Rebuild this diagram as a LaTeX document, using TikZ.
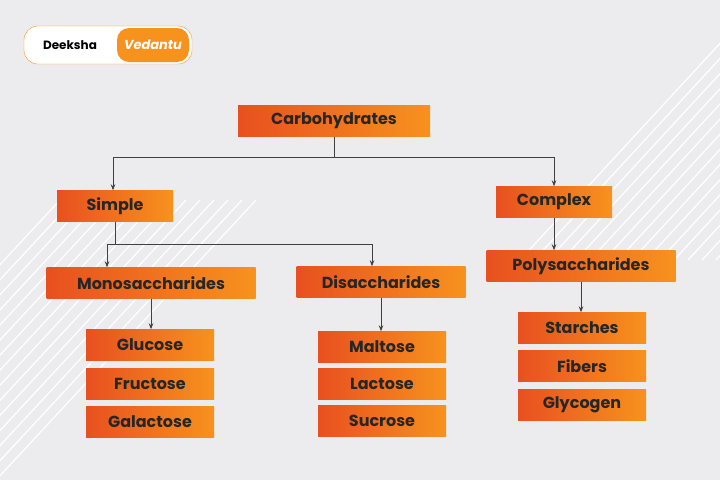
\documentclass[tikz,border=0pt]{standalone}
\usepackage{fontspec}
\setmainfont{Poppins}
\usetikzlibrary{positioning,arrows.meta}
\definecolor{darkorange}{HTML}{E8501F}
\definecolor{lightorange}{HTML}{F7921E}
\definecolor{bggray}{HTML}{ECECEE}
\begin{document}
\begin{tikzpicture}[x=1pt, y=-1pt]
		\useasboundingbox (0,0) rectangle (720,480);
		\fill[bggray] (0,0) rectangle (720,480);
		\begin{scope}
			\clip (0,0) rectangle (720,480);
			\foreach \i in {0,...,14} {
				\draw[white, line width=1.2pt] (-200+\i*14,480) -- (60+\i*14,200);
				\draw[white, line width=1.2pt] (520+\i*14,260) -- (760+\i*14,0);
			}
		\end{scope}
		% logo
		\node[draw=lightorange, fill=white, rounded corners=14pt, minimum width=168pt, minimum height=38pt] (logo) at (108,45) {};
		\node[font=\bfseries\fontsize{12}{13}\selectfont] (deeksha) at (70,45) {Deeksha};
		\node[fill=lightorange, rounded corners=12pt, text=white, font=\itshape\bfseries\fontsize{13}{14}\selectfont, minimum width=72pt, minimum height=34pt] (vedantu) at (153,45) {Vedantu};
		\begin{scope}[every node/.style={left color=darkorange, right color=lightorange, text=black!85, font=\bfseries\fontsize{16}{18}\selectfont, minimum height=31pt, inner sep=0pt}]
			\node[minimum width=192pt] (carb) at (334,121) {Carbohydrates};
			\node[minimum width=116pt] (simple) at (115,206) {Simple};
			\node[minimum width=116pt] (complex) at (554,202) {Complex};
			\node[minimum width=209pt] (mono) at (151,283) {Monosaccharides};
			\node[minimum width=169pt] (di) at (381,282) {Disaccharides};
			\node[minimum width=189pt] (poly) at (581,266) {Polysaccharides};
			\node[minimum width=128pt] (glucose) at (150,345) {Glucose};
			\node[minimum width=128pt] (fructose) at (150,384) {Fructose};
			\node[minimum width=128pt] (galactose) at (150,422) {Galactose};
			\node[minimum width=128pt] (maltose) at (382,347) {Maltose};
			\node[minimum width=128pt] (lactose) at (382,384) {Lactose};
			\node[minimum width=128pt] (sucrose) at (382,421) {Sucrose};
			\node[minimum width=128pt] (starches) at (582,328) {Starches};
			\node[minimum width=128pt] (fibers) at (582,366) {Fibers};
			\node[minimum width=128pt] (glycogen) at (582,405) {Glycogen};
		\end{scope}
		\begin{scope}[every path/.style={draw=black!75, thick, -{Stealth[length=6pt]}}]
			\coordinate (split1) at (334,157);
			\coordinate (split2) at (115,244);
			\draw[-] (carb.south) -- (split1);
			\draw (split1) -| ([xshift=-2pt]simple.north);
			\draw (split1) -| (complex.north);
			\draw[-] (simple.south) -- (split2);
			\draw (split2) -| ([xshift=-44pt]mono.north);
			\draw (split2) -| ([xshift=-9pt]di.north);
			\draw (complex) -- (complex |- poly.north);
			\draw (mono) -- (mono |- glucose.north);
			\draw (di) -- (di |- maltose.north);
			\draw (poly) -- (poly |- starches.north);
		\end{scope}
	\end{tikzpicture}
\end{document}
